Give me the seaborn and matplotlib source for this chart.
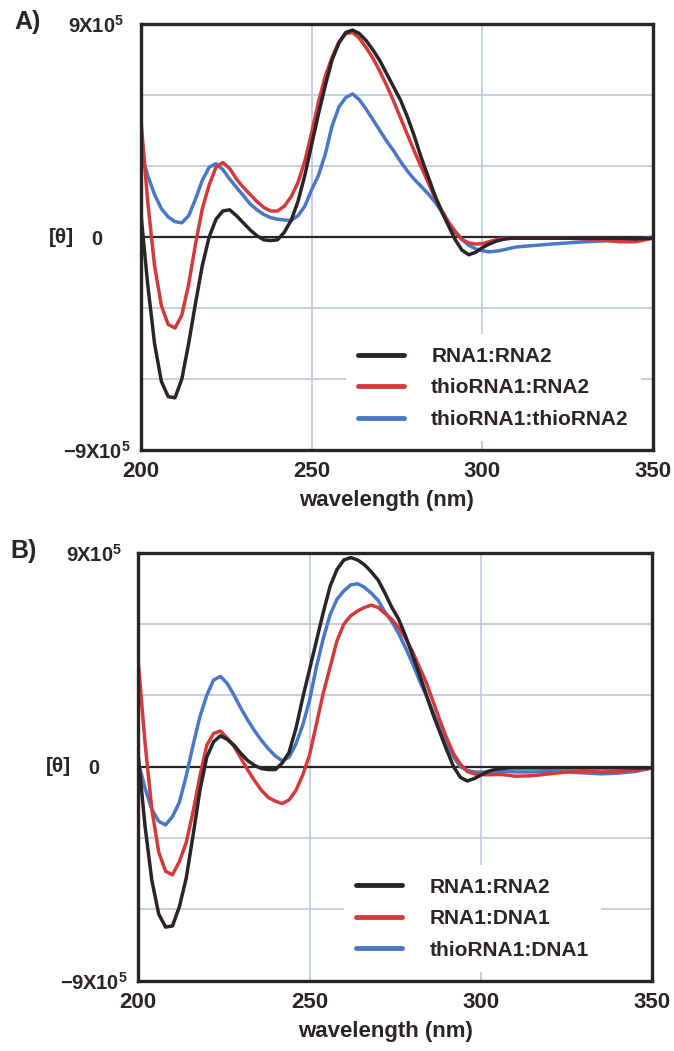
import matplotlib
matplotlib.use('Agg')
import matplotlib.pyplot as plt
import seaborn as sns
import pandas as pd

# --- DATA (theta in units of 10^5) ---
wavelength = [200, 202, 204, 206, 208, 210, 212, 214, 216, 218, 220, 222, 224, 226, 228, 230,
              232, 234, 236, 238, 240, 242, 244, 246, 248, 250, 252, 254, 256, 258, 260, 262,
              264, 266, 268, 270, 272, 274, 276, 278, 280, 282, 284, 286, 288, 290, 292, 294,
              296, 298, 300, 302, 304, 306, 308, 310, 315, 320, 325, 330, 335, 340, 345, 350]

# Panel A
a_rna1_rna2 = [1.0, -2.0, -4.5, -6.1, -6.75, -6.8, -6.0, -4.5, -2.8, -1.2, 0.0, 0.75, 1.1, 1.15, 0.9, 0.6,
               0.3, 0.05, -0.12, -0.15, -0.12, 0.2, 0.7, 1.5, 2.6, 3.9, 5.2, 6.4, 7.5, 8.2, 8.65, 8.75,
               8.6, 8.3, 7.9, 7.45, 6.9, 6.35, 5.8, 5.1, 4.3, 3.4, 2.6, 1.8, 1.1, 0.5, -0.1, -0.55,
               -0.75, -0.65, -0.45, -0.3, -0.18, -0.1, -0.06, -0.05, -0.05, -0.05, -0.05, -0.05, -0.05, -0.05, -0.08, -0.05]
a_thio_rna2 = [5.0, 1.5, -1.2, -2.9, -3.7, -3.85, -3.3, -2.0, -0.3, 1.2, 2.2, 2.95, 3.15, 2.9, 2.45, 2.1,
               1.8, 1.5, 1.25, 1.1, 1.1, 1.3, 1.7, 2.3, 3.2, 4.4, 5.7, 6.8, 7.6, 8.25, 8.6, 8.65,
               8.4, 8.0, 7.55, 7.0, 6.4, 5.75, 5.05, 4.35, 3.65, 3.0, 2.35, 1.7, 1.15, 0.65, 0.2, -0.1,
               -0.25, -0.3, -0.28, -0.2, -0.12, -0.06, -0.05, -0.05, -0.05, -0.05, -0.05, -0.08, -0.12, -0.2, -0.2, -0.05]
a_thio_thio = [3.6, 2.6, 1.8, 1.2, 0.85, 0.65, 0.6, 0.9, 1.6, 2.4, 2.95, 3.1, 2.85, 2.45, 2.1, 1.75,
               1.4, 1.15, 0.95, 0.82, 0.75, 0.72, 0.7, 0.9, 1.3, 2.0, 2.6, 3.5, 4.7, 5.5, 5.9, 6.05,
               5.8, 5.4, 4.95, 4.5, 4.05, 3.65, 3.2, 2.8, 2.45, 2.15, 1.85, 1.5, 1.1, 0.65, 0.25, -0.1,
               -0.35, -0.5, -0.58, -0.63, -0.6, -0.55, -0.48, -0.42, -0.36, -0.3, -0.25, -0.2, -0.17, -0.14, -0.1, 0.0]

# Panel B
b_rna1_rna2 = [0.5, -2.5, -4.8, -6.2, -6.75, -6.7, -5.9, -4.7, -2.9, -1.0, 0.4, 1.05, 1.3, 1.15, 0.9, 0.55,
               0.25, 0.05, -0.08, -0.12, -0.12, 0.15, 0.6, 1.6, 2.9, 4.1, 5.3, 6.5, 7.6, 8.3, 8.7, 8.8,
               8.7, 8.5, 8.2, 7.85, 7.3, 6.7, 6.2, 5.5, 4.7, 3.9, 3.05, 2.2, 1.45, 0.7, 0.0, -0.45,
               -0.6, -0.5, -0.35, -0.2, -0.12, -0.08, -0.05, -0.05, -0.05, -0.05, -0.05, -0.05, -0.05, -0.05, -0.05, -0.05]
b_rna1_dna1 = [4.45, 1.0, -1.8, -3.6, -4.4, -4.55, -4.0, -3.2, -1.9, -0.4, 0.9, 1.4, 1.5, 1.2, 0.85, 0.35,
               -0.15, -0.6, -1.0, -1.3, -1.45, -1.55, -1.4, -1.0, -0.35, 0.5, 1.8, 3.1, 4.2, 5.3, 6.0, 6.35,
               6.55, 6.7, 6.8, 6.7, 6.45, 6.2, 5.85, 5.4, 4.85, 4.2, 3.55, 2.75, 1.95, 1.2, 0.55, 0.1,
               -0.2, -0.3, -0.33, -0.34, -0.33, -0.33, -0.36, -0.4, -0.38, -0.3, -0.22, -0.2, -0.22, -0.2, -0.15, -0.05]
b_thio_dna1 = [0.2, -0.9, -1.8, -2.3, -2.45, -2.1, -1.5, -0.4, 0.9, 2.1, 3.0, 3.65, 3.8, 3.5, 3.0, 2.45,
               1.95, 1.5, 1.1, 0.75, 0.45, 0.25, 0.4, 0.95, 1.75, 2.8, 4.2, 5.4, 6.4, 7.05, 7.4, 7.65,
               7.7, 7.55, 7.3, 7.0, 6.5, 6.1, 5.6, 5.0, 4.35, 3.65, 3.0, 2.3, 1.6, 0.95, 0.4, 0.0,
               -0.15, -0.22, -0.23, -0.22, -0.2, -0.19, -0.2, -0.22, -0.22, -0.2, -0.22, -0.26, -0.3, -0.27, -0.2, -0.05]

labels_a = ['RNA1:RNA2', 'thioRNA1:RNA2', 'thioRNA1:thioRNA2']
labels_b = ['RNA1:RNA2', 'RNA1:DNA1', 'thioRNA1:DNA1']
line_colors = ['#2b2427', '#d33a3c', '#4a78c6']

x_ticks = [200, 250, 300, 350]
y_ticks = [-9, 0, 9]
y_tick_labels = ['\u22129X10$^{5}$', '0', '9X10$^{5}$']
y_grid = [-6, -3, 3, 6]

INK = '#2b2427'
GRID = '#bcc6dd'

# --- STYLE ---
sns.set_theme(style="white")
plt.rcParams['font.family'] = ['Liberation Sans', 'DejaVu Sans']
plt.rcParams['font.weight'] = 'bold'
plt.rcParams['mathtext.fontset'] = 'custom'
plt.rcParams['mathtext.rm'] = 'Liberation Sans:bold'
plt.rcParams['mathtext.bf'] = 'Liberation Sans:bold'
plt.rcParams['mathtext.default'] = 'rm'
plt.rcParams['text.color'] = INK


def build_frame(series, labels):
    rows = []
    for vals, lab in zip(series, labels):
        rows.append(pd.DataFrame({'wavelength': wavelength, 'theta': vals, 'sample': lab}))
    return pd.concat(rows, ignore_index=True)


def draw_panel(ax, frame, labels, letter):
    palette = dict(zip(labels, line_colors))
    # draw blue first, black last so the black trace sits on top
    sns.lineplot(data=frame, x='wavelength', y='theta', hue='sample', hue_order=labels[::-1],
                 palette=palette, linewidth=2.5, sort=False, ax=ax, zorder=3)
    for ln in ax.lines:
        ln.set_solid_joinstyle('round')
    ax.axhline(0, color=INK, linewidth=1.6, zorder=2.5)

    ax.set_xlim(200, 350)
    ax.set_ylim(-9, 9)
    ax.set_xticks(x_ticks)
    ax.set_yticks(y_ticks)
    ax.set_yticklabels(y_tick_labels)
    ax.set_yticks(y_grid, minor=True)
    ax.xaxis.grid(True, which='major', color=GRID, linewidth=1.2, zorder=1)
    ax.yaxis.grid(True, which='minor', color=GRID, linewidth=1.2, zorder=1)
    ax.yaxis.grid(False, which='major')
    ax.set_axisbelow(True)

    ax.tick_params(which='both', length=0)
    ax.tick_params(axis='x', labelsize=16, pad=8, colors=INK)
    ax.tick_params(axis='y', labelsize=14.5, pad=32, colors=INK)
    for t in ax.get_yticklabels():
        t.set_horizontalalignment('center')

    for sp in ax.spines.values():
        sp.set_visible(True)
        sp.set_color(INK)
        sp.set_linewidth(2.4)
        sp.set_zorder(4)

    ax.set_xlabel('wavelength (nm)', fontsize=16, fontweight='bold', color=INK)
    ax.xaxis.set_label_coords(0.48, -0.095)
    ax.set_ylabel('[\u03b8]', fontsize=15, fontweight='bold', rotation=0, color=INK,
                  ha='center', va='center')
    ax.yaxis.set_label_coords(-0.156, 0.5)

    # legend: white box without frame, same left edge in both panels
    handles, labs = ax.get_legend_handles_labels()
    order = [labs.index(l) for l in labels]
    leg = ax.legend([handles[i] for i in order], [labs[i] for i in order],
                    loc='lower left', bbox_to_anchor=(0.40, 0.02), borderaxespad=0,
                    frameon=True, facecolor='white', edgecolor='none', framealpha=1,
                    fontsize=15, handlelength=2.2, handletextpad=1.3, labelspacing=0.6,
                    borderpad=0.6)
    for ln in leg.get_lines():
        ln.set_linewidth(3.5)
    leg.set_zorder(5)

    ax.text(-0.222, 1.005, letter, transform=ax.transAxes, fontsize=18, fontweight='bold',
            ha='center', va='center', color=INK)


fig = plt.figure(figsize=(6.74, 10.51), dpi=100)
ax_a = fig.add_axes([0.209, 0.572, 0.760, 0.405])
ax_b = fig.add_axes([0.205, 0.067, 0.763, 0.407])

draw_panel(ax_a, build_frame([a_rna1_rna2, a_thio_rna2, a_thio_thio], labels_a), labels_a, 'A)')
draw_panel(ax_b, build_frame([b_rna1_rna2, b_rna1_dna1, b_thio_dna1], labels_b), labels_b, 'B)')

fig.savefig('out.png', dpi=100, facecolor='white')
